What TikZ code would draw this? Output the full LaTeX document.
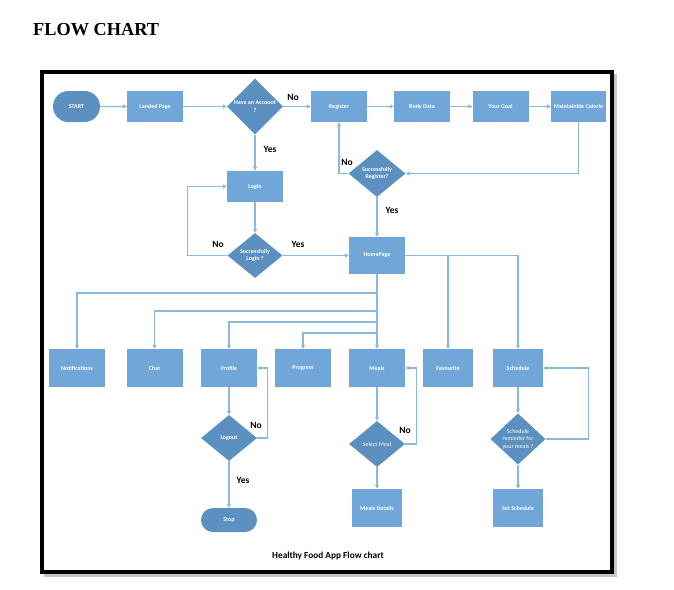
\documentclass[tikz,border=0pt]{standalone}
\usepackage{fontspec}
\setmainfont{Carlito}
\newfontfamily\titlefont{Liberation Serif}
\usetikzlibrary{shapes.geometric,shapes.misc,arrows.meta}
\definecolor{boxblue}{RGB}{112,167,216}
\definecolor{diablue}{RGB}{92,144,192}
\definecolor{lineblue}{RGB}{141,184,224}

\begin{document}
\begin{tikzpicture}[x=1pt,y=-1pt,
  box/.style={rectangle,fill=boxblue,text=white,font=\fontsize{6}{7.5}\selectfont\bfseries,
    minimum width=56pt,minimum height=31pt,inner sep=0pt,align=center},
  dia/.style={diamond,fill=diablue,text=white,font=\fontsize{6}{7.5}\selectfont\bfseries,
    minimum width=56pt,minimum height=46pt,inner sep=0pt,align=center},
  term/.style={rounded rectangle,fill=diablue,text=white,font=\fontsize{6}{7.5}\selectfont\bfseries,
    minimum width=47pt,minimum height=31pt,inner sep=0pt},
  link/.style={draw=lineblue,line width=1.2pt,-{Triangle[length=4pt,width=4pt]}},
  lbl/.style={font=\fontsize{9.5}{11}\selectfont\bfseries}]
  \useasboundingbox (0,0) rectangle (674,589);

  %frame
  \fill[gray!45] (44,73.5) rectangle (617,577);
  \draw[fill=white,line width=4pt] (42,71.5) rectangle (612,571.5);
  \node[font=\titlefont\fontsize{18.3}{20}\selectfont\bfseries,anchor=base west,inner sep=0pt] (title) at (33,35) {FLOW CHART};
  \node[font=\fontsize{9.3}{11}\selectfont\bfseries] (caption) at (328,556) {Healthy Food App Flow chart};

  %top row
  \node[term] (start) at (76.5,106.5) {START};
  \node[box] (landed) at (155,106.5) {Landed Page};
  \node[dia,minimum height=56pt] (account) at (255,106.5) {Have an Account\\?};
  \node[box] (register) at (339,106.5) {Register};
  \node[box] (body) at (422,106.5) {Body Data};
  \node[box] (goal) at (500.5,106.5) {Your Goal};
  \node[box,minimum width=55pt] (calorie) at (578.5,106.5) {Maintainble Calorie};

  \draw[link] (start) -- (landed);
  \draw[link] (landed) -- (account);
  \draw[link] (account) -- (register);
  \draw[link] (register) -- (body);
  \draw[link] (body) -- (goal);
  \draw[link] (goal) -- (calorie);
  \node[lbl] (noacc) at (293,97) {No};

  %register check
  \node[dia,minimum width=57pt,minimum height=47pt] (sreg) at (377,173.5) {Successfully\\Register?};
  \draw[link] (calorie.south) |- (sreg.east);
  \draw[link] (sreg.west) -| (register.south);
  \node[lbl] (noreg) at (347,162) {No};
  \node[lbl] (yesreg) at (392,210) {Yes};

  %login
  \node[box] (login) at (255,186.5) {Login};
  \node[dia,minimum width=55pt,minimum height=45pt] (slogin) at (255,255.5) {Successfully\\Login ?};
  \node[box,minimum height=37pt] (home) at (377,255.5) {HomePage};
  \draw[link] (account) -- (login);
  \draw[link] (login) -- (slogin);
  \draw[link] (slogin.west) -- ++(-40,0) |- (login.west);
  \draw[link] (slogin) -- (home);
  \draw[link] (sreg) -- (home);
  \node[lbl] (yesacc) at (270,149) {Yes};
  \node[lbl] (nolog) at (218,244) {No};
  \node[lbl] (yeslog) at (298,244) {Yes};

  %menu row
  \node[box,minimum height=38pt] (notif) at (77,368) {Notifications};
  \node[box,minimum height=38pt] (chat) at (154.5,368) {Chat};
  \node[box,minimum height=38pt] (profile) at (229,368) {Profile};
  \node[box,minimum height=38pt] (progress) at (303,368) {Progress};
  \node[box,minimum height=38pt] (meals) at (377,368) {Meals};
  \node[box,minimum width=50pt,minimum height=38pt] (fav) at (448,368) {Favourite};
  \node[box,minimum width=50pt,minimum height=38pt] (sched) at (518,368) {Schedule};

  \coordinate (bnotif) at (377,293);
  \coordinate (bchat) at (377,311);
  \coordinate (bprofile) at (377,322);
  \coordinate (bprogress) at (377,333);
  \draw[link] (home.south) -- (meals.north);
  \draw[link] (bnotif) -| (notif.north);
  \draw[link] (bchat) -| (chat.north);
  \draw[link] (bprofile) -| (profile.north);
  \draw[link] (bprogress) -| (progress.north);
  \draw[link] (home.east) -| (sched.north);
  \draw[link] (home.east -| fav.north) -- (fav.north);

  %profile
  \node[dia] (logout) at (229,438) {Logout};
  \node[term,minimum width=56pt,minimum height=24pt] (stop) at (229,520) {Stop};
  \draw[link] (profile) -- (logout);
  \draw[link] (logout) -- (stop);
  \draw[link] (logout.east) -- ++(10,0) |- (profile.east);
  \node[lbl] (nolout) at (256,425) {No};
  \node[lbl] (yeslout) at (243,480) {Yes};

  %meals
  \node[dia,font=\fontsize{6}{7.5}\selectfont] (selmeal) at (377,444) {Select Meal};
  \node[box,minimum width=50pt,minimum height=38pt] (mdetails) at (377,508) {Meals Details};
  \draw[link] (meals) -- (selmeal);
  \draw[link] (selmeal) -- (mdetails);
  \draw[link] (selmeal.east) -- ++(11,0) |- (meals.east);
  \node[lbl] (nomeal) at (405,430) {No};

  %schedule
  \node[dia,minimum width=55pt,font=\fontsize{6}{7.5}\selectfont] (remind) at (518,439) {Schedule\\reminder for\\your meals ?};
  \node[box,minimum width=50pt,minimum height=38pt] (setsched) at (518,508) {Set Schedule};
  \draw[link] (sched) -- (remind);
  \draw[link] (remind) -- (setsched);
  \draw[link] (remind.east) -- ++(43,0) |- (sched.east);

\end{tikzpicture}
\end{document}
